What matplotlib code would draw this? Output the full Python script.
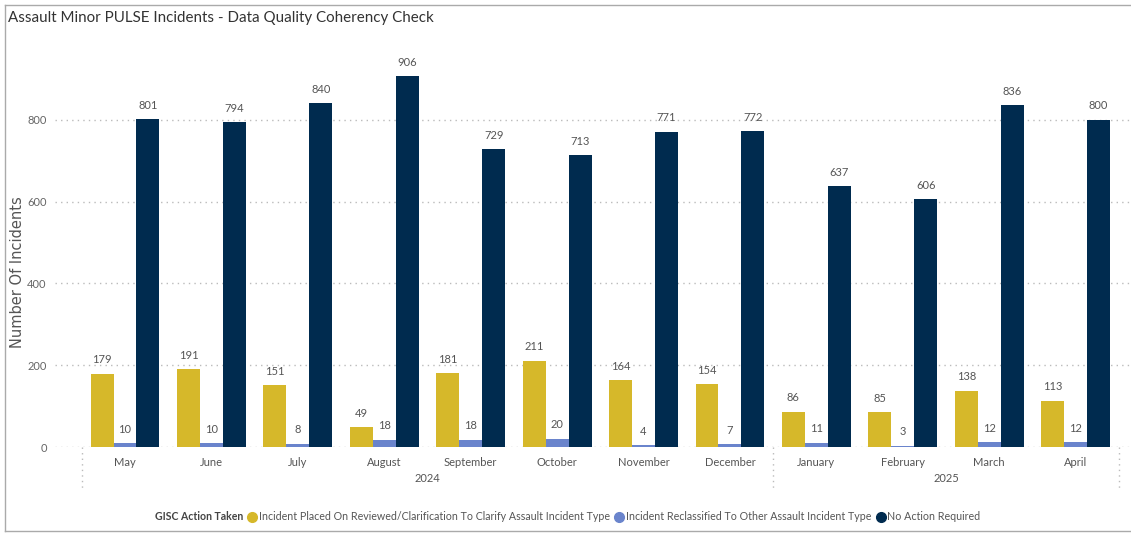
import matplotlib.pyplot as plt
import numpy as np
from matplotlib.lines import Line2D

months = ['May', 'June', 'July', 'August', 'September', 'October',
          'November', 'December', 'January', 'February', 'March', 'April']
years = ['2024', '2025']
year_counts = [8, 4]
placed_review = [179, 191, 151, 49, 181, 211, 164, 154, 86, 85, 138, 113]
reclassified = [10, 10, 8, 18, 18, 20, 4, 7, 11, 3, 12, 12]
no_action = [801, 794, 840, 906, 729, 713, 771, 772, 637, 606, 836, 800]
series_names = ['Incident Placed On Reviewed/Clarification To Clarify Assault Incident Type',
                'Incident Reclassified To Other Assault Incident Type',
                'No Action Required']
colors = ['#D6B82A', '#6A84CC', '#002B4F']

font = ['Lato', 'DejaVu Sans']
W, H = 1131, 534

fig = plt.figure(figsize=(W / 100, H / 100), dpi=100)
ax = fig.add_axes([55 / W, 1 - 447 / H, (W - 55) / W, 409 / H])

x = np.arange(len(months))
w = 0.266
for i, (vals, c) in enumerate(zip([placed_review, reclassified, no_action], colors)):
    bars = ax.bar(x + (i - 1) * w, vals, width=w, color=c, zorder=3)
    for b, v in zip(bars, vals):
        ax.annotate(str(v), (b.get_x() + b.get_width() / 2, v), xytext=(0, 6),
                    textcoords='offset points', ha='center', va='bottom',
                    fontsize=8, color='#555555', family=font)

ax.set_xlim(-0.81, 11.64)
ax.set_ylim(0, 1000)
ax.set_yticks([0, 200, 400, 600, 800])
ax.yaxis.grid(True, linestyle=(0, (1, 3)), color='#bbbbbb', linewidth=1)
ax.set_axisbelow(True)
for s in ax.spines.values():
    s.set_visible(False)
ax.tick_params(length=0)
ax.set_xticks(x)
ax.set_xticklabels(months, fontsize=8, color='#555555', family=font)
for t in ax.get_yticklabels():
    t.set_fontsize(8)
    t.set_color('#666666')
    t.set_family(font)
ax.tick_params(axis='y', pad=6)
ax.tick_params(axis='x', pad=7)

# year grouping
trans = ax.get_xaxis_transform()
start = -0.5
for yr, n in zip(years, year_counts):
    ax.text(start + n / 2, -31 / 409, yr, transform=trans, ha='center', va='center',
            fontsize=8, color='#555555', family=font)
    start += n
for b in [-0.5, 7.5, 11.5]:
    ax.plot([b, b], [0, -43 / 409], transform=trans, clip_on=False,
            linestyle=(0, (1, 3)), color='#bbbbbb', linewidth=1)

fig.text(18 / W, 1 - 272 / H, 'Number Of Incidents', rotation=90, ha='center',
         va='center', fontsize=10.5, color='#555555')
fig.text(8 / W, 1 - 18 / H, 'Assault Minor PULSE Incidents - Data Quality Coherency Check',
         ha='left', va='center', fontsize=10.9, color='#333333', family=font)

# legend
fig.text(155 / W, 1 - 517 / H, 'GISC Action Taken', ha='left', va='center',
         fontsize=7.6, color='#444444', fontweight='bold', family=font)
handles = [Line2D([], [], marker='o', linestyle='none', color=c, markersize=7) for c in colors]
fig.legend(handles, series_names, loc='center left', bbox_to_anchor=(249 / W, 1 - 517 / H),
           ncol=3, frameon=False, handletextpad=0.3, columnspacing=0.6, handlelength=0.6,
           borderpad=0, borderaxespad=0,
           prop={'family': font, 'size': 7.7}, labelcolor='#555555')

# frame around the visual
fig.add_artist(Line2D([5 / W, 5 / W], [1 - 5 / H, 1 - 531 / H], color='#aaaaaa', lw=1))
fig.add_artist(Line2D([5 / W, 1], [1 - 5 / H, 1 - 5 / H], color='#aaaaaa', lw=1))
fig.add_artist(Line2D([5 / W, 1], [1 - 531 / H, 1 - 531 / H], color='#aaaaaa', lw=1))

fig.savefig('out.png', dpi=100)
